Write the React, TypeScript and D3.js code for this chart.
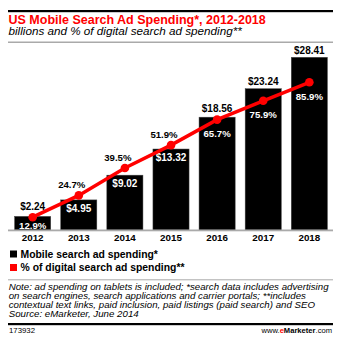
import React, { useLayoutEffect, useRef, useState } from "react";
import * as d3 from "d3";

const years = ["2012", "2013", "2014", "2015", "2016", "2017", "2018"];
const spending = [2.24, 4.95, 9.02, 13.32, 18.56, 23.24, 28.41];
const spendingLabels = ["$2.24", "$4.95", "$9.02", "$13.32", "$18.56", "$23.24", "$28.41"];
const percent = [12.9, 24.7, 39.5, 51.9, 65.7, 75.9, 85.9];
const percentLabels = ["12.9%", "24.7%", "39.5%", "51.9%", "65.7%", "75.9%", "85.9%"];
// label placement: true = inside bar (white)
const spendingInside = [false, true, true, true, false, false, false];
const percentAbove = [false, true, true, true, false, false, false];
const legendItems = ["Mobile search ad spending*", "% of digital search ad spending**"];
const noteLines = [
  "Note: ad spending on tablets is included; *search data includes advertising",
  "on search engines, search applications and carrier portals; **includes",
  "contextual text links, paid inclusion, paid listings (paid search) and SEO",
  "Source: eMarketer, June 2014",
];

const RED = "#ff0000";
const FONT = "Liberation Sans, Arial, sans-serif";

export default function App() {
  const W = 349;
  const H = 349;
  const baseY = 230;
  const x = d3.scaleBand<string>().domain(years).range([10, 332]).paddingInner(0.217).paddingOuter(0.1);
  const y = d3.scaleLinear().domain([0, 28.41]).range([baseY, 57.3]);
  const yp = d3.scaleLinear().domain([12.9, 85.9]).range([217.2, 82.3]);
  const cx = (i: number) => (x(years[i]) as number) + x.bandwidth() / 2;
  const line = d3
    .line<number>()
    .x((_, i) => cx(i))
    .y((d) => yp(d));

  const noteRef = useRef<SVGTextElement>(null);
  const [noteScale, setNoteScale] = useState(1);
  useLayoutEffect(() => {
    if (noteRef.current) {
      const w = noteRef.current.getComputedTextLength();
      if (w > 0) setNoteScale(320 / w);
    }
  }, []);

  return (
    <svg width={W} height={H} style={{ position: "absolute", left: 0, top: 0, background: "#fff" }} fontFamily={FONT}>
      <rect x={0} y={0} width={W} height={H} fill="#fff" />
      <rect x={8} y={10} width={325} height={2.2} fill="#000" />
      <text x={8.5} y={23.5} fill={RED} fontWeight="bold" fontSize={12.5}>
        US Mobile Search Ad Spending*, 2012-2018
      </text>
      <text x={8.5} y={34.5} fill="#000" fontStyle="italic" fontSize={11.7}>
        billions and % of digital search ad spending**
      </text>
      <rect x={8} y={41.5} width={325} height={1.5} fill="#aaa" />

      {spending.map((v, i) => (
        <rect key={"b" + i} x={x(years[i])} y={y(v)} width={x.bandwidth()} height={baseY - y(v)} fill="#000" stroke="#444" strokeWidth={0.5} />
      ))}
      <rect x={8} y={baseY - 0.5} width={325} height={1.8} fill="#aaa" />

      {spending.map((v, i) => (
        <text
          key={"sl" + i}
          x={cx(i)}
          y={spendingInside[i] ? y(v) + 12.3 : Math.min(y(v) - 3.3, yp(percent[i]) - 7.5)}
          textAnchor="middle"
          fontWeight="bold"
          fontSize={10}
          fill={spendingInside[i] ? "#fff" : "#000"}
        >
          {spendingLabels[i]}
        </text>
      ))}

      <path d={line(percent) || ""} fill="none" stroke={RED} strokeWidth={3.5} />
      {percent.map((v, i) => (
        <circle key={"c" + i} cx={cx(i)} cy={yp(v)} r={4.3} fill={RED} />
      ))}
      {percent.map((v, i) => (
        <text
          key={"pl" + i}
          x={percentAbove[i] ? cx(i) - 7 : cx(i)}
          y={percentAbove[i] ? yp(v) - 7 : Math.min(yp(v) + 17.5, baseY - 1.2)}
          textAnchor="middle"
          fontWeight="bold"
          fontSize={9.6}
          fill={percentAbove[i] ? "#000" : "#fff"}
        >
          {percentLabels[i]}
        </text>
      ))}

      {years.map((yr, i) => (
        <text key={"x" + i} x={cx(i)} y={240.8} textAnchor="middle" fontWeight="bold" fontSize={9.8} fill="#000">
          {yr}
        </text>
      ))}

      {legendItems.map((t, i) => (
        <g key={"lg" + i}>
          <rect x={10} y={250.5 + i * 13.5} width={7} height={7} fill={i === 0 ? "#000" : RED} />
          <text x={20.5} y={257.5 + i * 13.5} fontWeight="bold" fontSize={10.4} fill="#000">
            {t}
          </text>
        </g>
      ))}

      <rect x={8} y={279.3} width={325} height={1} fill="#aaa" />
      <g transform={`translate(8.7,0) scale(${noteScale},1)`}>
        {noteLines.map((t, i) => (
          <text key={"n" + i} ref={i === 0 ? noteRef : undefined} x={0} y={290 + i * 9} fontStyle="italic" fontSize={9.3} fill="#000">
            {t}
          </text>
        ))}
      </g>
      <rect x={8} y={323} width={325} height={2.2} fill="#000" />
      <text x={9} y={332.5} fontSize={7.8} fill="#000">
        173932
      </text>
      <text x={332} y={332.5} fontSize={7.6} fill="#000" textAnchor="end">
        www.<tspan fill={RED} fontWeight="bold">e</tspan>
        <tspan fontWeight="bold">Marketer</tspan>.com
      </text>
    </svg>
  );
}
